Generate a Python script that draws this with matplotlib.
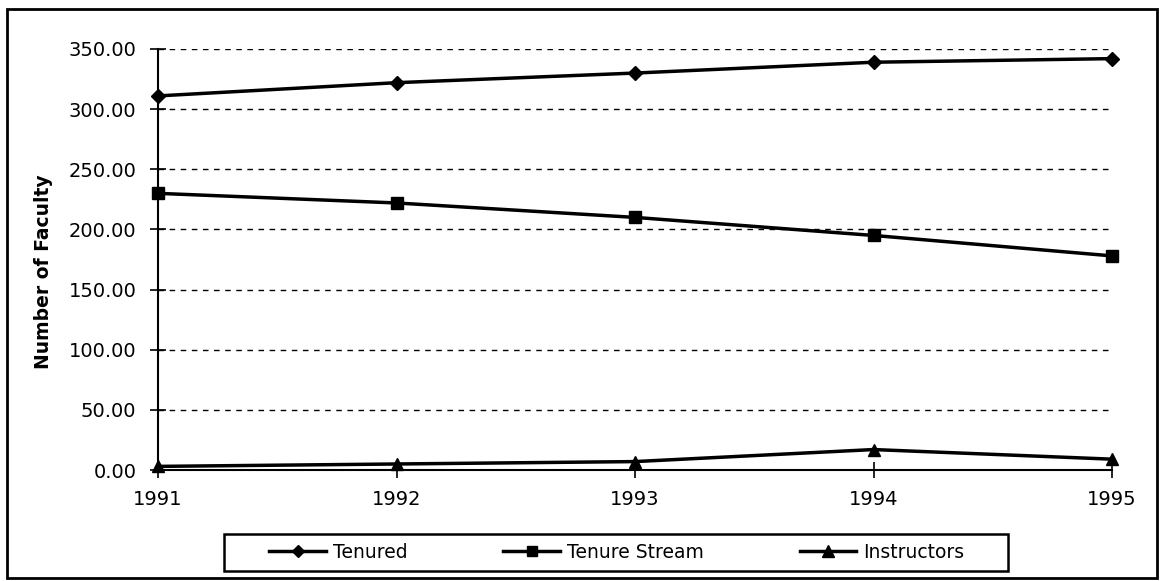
import matplotlib
matplotlib.use("Agg")
import matplotlib.pyplot as plt
from matplotlib.patches import Rectangle
from matplotlib.ticker import FormatStrFormatter

years = [1991, 1992, 1993, 1994, 1995]
tenured = [311, 322, 330, 339, 342]
tenure_stream = [230, 222, 210, 195, 178]
instructors = [3, 5, 7, 17, 9]
series_names = ["Tenured", "Tenure Stream", "Instructors"]
y_ticks = [0, 50, 100, 150, 200, 250, 300, 350]

W, H = 1162, 581
fig = plt.figure(figsize=(W / 100, H / 100), dpi=100)
fig.patch.set_facecolor("white")

# outer frame
fig.patches.append(Rectangle((7 / W, 3 / H), (1157 - 7) / W, (575 - 6) / H,
                             transform=fig.transFigure, fill=False,
                             edgecolor="black", linewidth=2.0))

ax = fig.add_axes([158 / W, 1 - 470 / H, (1112 - 158) / W, (470 - 49) / H])
ax.set_xlim(1991, 1995)
ax.set_ylim(0, 350)

for y in y_ticks[1:]:
    ax.axhline(y, color="black", linestyle=(0, (4, 4)), linewidth=1.0, zorder=1)

l1, = ax.plot(years, tenured, color="black", lw=2.5, marker="D", ms=7, clip_on=False, zorder=3)
l2, = ax.plot(years, tenure_stream, color="black", lw=2.5, marker="s", ms=8, clip_on=False, zorder=3)
l3, = ax.plot(years, instructors, color="black", lw=2.5, marker="^", ms=9, clip_on=False, zorder=3)

ax.spines["top"].set_visible(False)
ax.spines["right"].set_visible(False)
ax.spines["left"].set_linewidth(1.5)
ax.spines["bottom"].set_linewidth(1.5)

ax.set_yticks(y_ticks)
ax.yaxis.set_major_formatter(FormatStrFormatter("%.2f"))
ax.set_xticks(years)
ax.set_xticklabels([str(y) for y in years])
ax.tick_params(axis="both", direction="inout", length=11, width=1.2,
               labelsize=14, colors="black")
ax.tick_params(axis="x", pad=9)
ax.tick_params(axis="y", pad=10)

fig.text(44 / W, 1 - 272 / H, "Number of Faculty", rotation=90,
         ha="center", va="center", fontsize=13.5, fontweight="bold")

# legend box
fig.patches.append(Rectangle((224 / W, 1 - 571 / H), (1008 - 224) / W, (571 - 534) / H,
                             transform=fig.transFigure, fill=False,
                             edgecolor="black", linewidth=1.8))
leg = fig.legend([l1, l2, l3], series_names, loc="center",
                 bbox_to_anchor=(617 / W, 1 - 552.5 / H),
                 ncol=3, fontsize=13.5, frameon=False,
                 handlelength=3.0, handletextpad=0.4, columnspacing=5.1,
                 borderaxespad=0, borderpad=0.2, markerscale=0.9)

fig.savefig("out.png", dpi=100, facecolor="white")
